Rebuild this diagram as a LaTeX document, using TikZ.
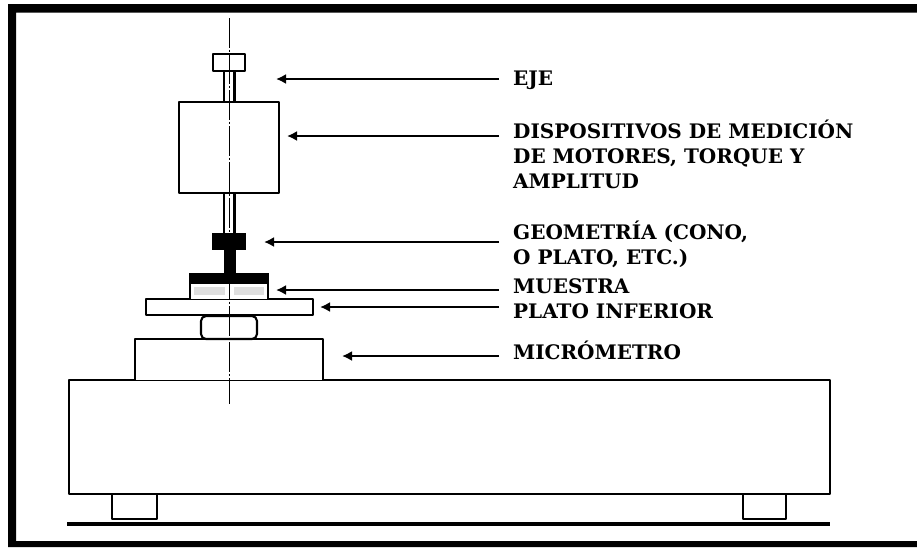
\documentclass[tikz,border=0pt]{standalone}
\usepackage{fontspec}
\usetikzlibrary{arrows.meta}
\setmainfont{DejaVu Serif}
\begin{document}
\begin{tikzpicture}[x=1pt,y=-1pt,
  part/.style={draw=black,line width=2.1pt,fill=white,line join=round},
  foot/.style={draw=black,line width=1.7pt,fill=white,line join=round},
  solid part/.style={fill=black,draw=none},
  axisline/.style={draw=black,line width=1.8pt,dash pattern=on 29.5pt off 2pt on 2pt off 2.5pt},
  callout/.style={draw=black,line width=1.9pt,shorten <=14pt,-{Latex[length=10pt,width=10pt]}},
  lbl/.style={anchor=base west,inner sep=0pt,align=left,font=\bfseries\fontsize{20}{25}\selectfont,text=black},
]
\useasboundingbox (0,0) rectangle (917,547);
\fill[white] (0,0) rectangle (917,547);
% frame
\fill[black] (917,4) -- (8,4) -- (8,547) -- (917,547) -- (917,541) -- (16,541) -- (16,12.5) -- (917,12.5) -- cycle;
% feet and floor
\draw[foot] (112,494) -- (112,519) -- (157,519) -- (157,494);
\draw[foot] (743,494) -- (743,519) -- (786,519) -- (786,494);
\draw[black,line width=3.4pt] (67,524) -- (830,524);
% base and micrometer
\draw[part] (69,380) rectangle (830,494);
\draw[part] (135,380) -- (135,339) -- (323,339) -- (323,380);
% nut
\draw[part,rounded corners=5pt] (201,339) rectangle (257,316);
\draw[part,fill=none] (135,339) -- (323,339);
% lower plate
\draw[part] (146,299) rectangle (313,315);
% sample
\draw[part] (190,299) -- (190,283) -- (268,283) -- (268,299);
\fill[gray!25] (194,287) rectangle (225,295);
\fill[gray!25] (234,287) rectangle (264,295);
% geometry
\fill[solid part] (189,273) rectangle (269,283);
\fill[solid part] (224,250) rectangle (236,274);
\fill[solid part] (212,233) rectangle (246,250);
% shaft
\draw[part,fill=none] (224,192) -- (224,233) (234.5,192) -- (234.5,233);
\draw[part,fill=none] (224,71) -- (224,103) (234.5,71) -- (234.5,103);
% measuring body and cap
\draw[part] (179,102) rectangle (279,193);
\draw[part] (213,54) rectangle (245,71);
% axis
\draw[axisline] (229.5,18) -- (229.5,404);
% labels
\node[lbl] (lblEje) at (513,85) {EJE};
\node[lbl] (lblDisp) at (513,188) {DISPOSITIVOS DE MEDICIÓN\\DE MOTORES, TORQUE Y\\AMPLITUD};
\node[lbl] (lblGeom) at (513,264) {GEOMETRÍA (CONO,\\O PLATO, ETC.)};
\node[lbl] (lblMuestra) at (513,293) {MUESTRA};
\node[lbl] (lblPlato) at (513,318) {PLATO INFERIOR};
\node[lbl] (lblMicro) at (513,359) {MICRÓMETRO};
% callouts
\coordinate (tipEje) at (276,79);
\coordinate (tipDisp) at (287,136);
\coordinate (tipGeom) at (264,242);
\coordinate (tipMuestra) at (276,290);
\coordinate (tipPlato) at (320,307);
\coordinate (tipMicro) at (342,356);
\draw[callout] (lblEje.west |- tipEje) -- (tipEje);
\draw[callout] (lblDisp.west |- tipDisp) -- (tipDisp);
\draw[callout] (lblGeom.west |- tipGeom) -- (tipGeom);
\draw[callout] (lblMuestra.west |- tipMuestra) -- (tipMuestra);
\draw[callout] (lblPlato.west |- tipPlato) -- (tipPlato);
\draw[callout] (lblMicro.west |- tipMicro) -- (tipMicro);
\end{tikzpicture}
\end{document}
